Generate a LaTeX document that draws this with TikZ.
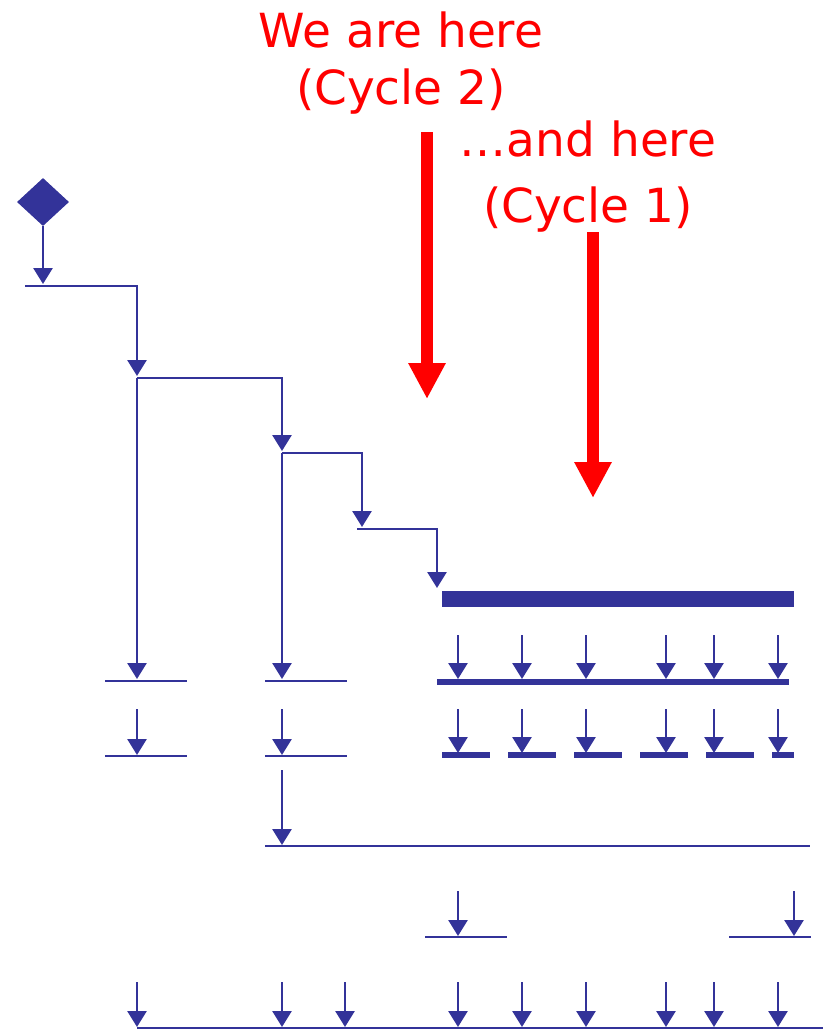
\documentclass[tikz,border=0pt]{standalone}
\usepackage{fontspec}
\setmainfont{DejaVu Sans}
\usetikzlibrary{arrows.meta,shapes.geometric}
\definecolor{flowblue}{RGB}{51,51,153}
\definecolor{markred}{RGB}{255,0,0}

\tikzset{
  bar/.style={flowblue, line width=2.8pt},
  fatbar/.style={flowblue, line width=6pt},
  down/.style={flowblue, line width=2.8pt, -{Triangle[width=19pt,length=16pt]}},
  here/.style={markred, line width=12pt, -{Triangle[width=35pt,length=36pt]}},
  herelabel/.style={text=markred, align=center, inner sep=0pt, anchor=base,
    font=\fontsize{47}{57}\selectfont}
}

\begin{document}
\begin{tikzpicture}[x=1pt,y=-1pt]
        \useasboundingbox (0,0) rectangle (823,1031);
        % labels and the two red markers
        \node[herelabel] (cycle2) at (401,104) {We are here\\(Cycle 2)};
        \node[herelabel] (cycle1) at (588,222) {…and here\\[9pt](Cycle 1)};
        \coordinate (m2) at (427,132);
        \coordinate (m1) at (593,232);
        \draw[here] (m2) -- (427,399);
        \draw[here] (m1) -- (593,498);
        % start and the stair
        \node[diamond, fill=flowblue, minimum width=52pt, minimum height=48pt, inner sep=0pt] (start) at (43,202) {};
        \draw[down] (start.south) -- (43,284);
        \draw[down] (25,286) -- (137,286) -- (137,376);
        \draw[down] (137,378) -- (282,378) -- (282,451);
        \draw[down] (282,453) -- (362,453) -- (362,527);
        \draw[down] (357,529) -- (437,529) -- (437,588);
        \draw[flowblue, line width=16pt] (442,599) -- (794,599);
        \draw[down] (137,378) -- (137,679);
        \draw[down] (282,453) -- (282,679);
        % first and second rows
        \draw[bar] (105,681) -- (187,681);
        \draw[bar] (265,681) -- (347,681);
        \draw[fatbar] (437,681.5) -- (789,681.5);
        \draw[bar] (105,756) -- (187,756);
        \draw[bar] (265,756) -- (347,756);
        \foreach \x in {137,282}
          \draw[down] (\x,709) -- (\x,755);
        \foreach \x in {458,522,586,666,714,778}{
          \draw[down] (\x,635) -- (\x,679);
          \draw[down] (\x,709) -- (\x,753);
        }
        \foreach \a/\b in {442/490,508/556,574/622,640/688,706/754,772/794}
          \draw[fatbar] (\a,755) -- (\b,755);
        % merge below
        \draw[down] (282,770) -- (282,845);
        \draw[bar] (265,846) -- (810,846);
        \draw[bar] (425,937) -- (507,937);
        \draw[bar] (729,937) -- (811,937);
        \foreach \x in {458,794}
          \draw[down] (\x,891) -- (\x,936);
        % bottom row
        \foreach \x in {137,282,345,458,522,586,666,714,778}
          \draw[down] (\x,982) -- (\x,1027);
        \draw[bar] (137,1028) -- (823,1028);
\end{tikzpicture}
\end{document}
